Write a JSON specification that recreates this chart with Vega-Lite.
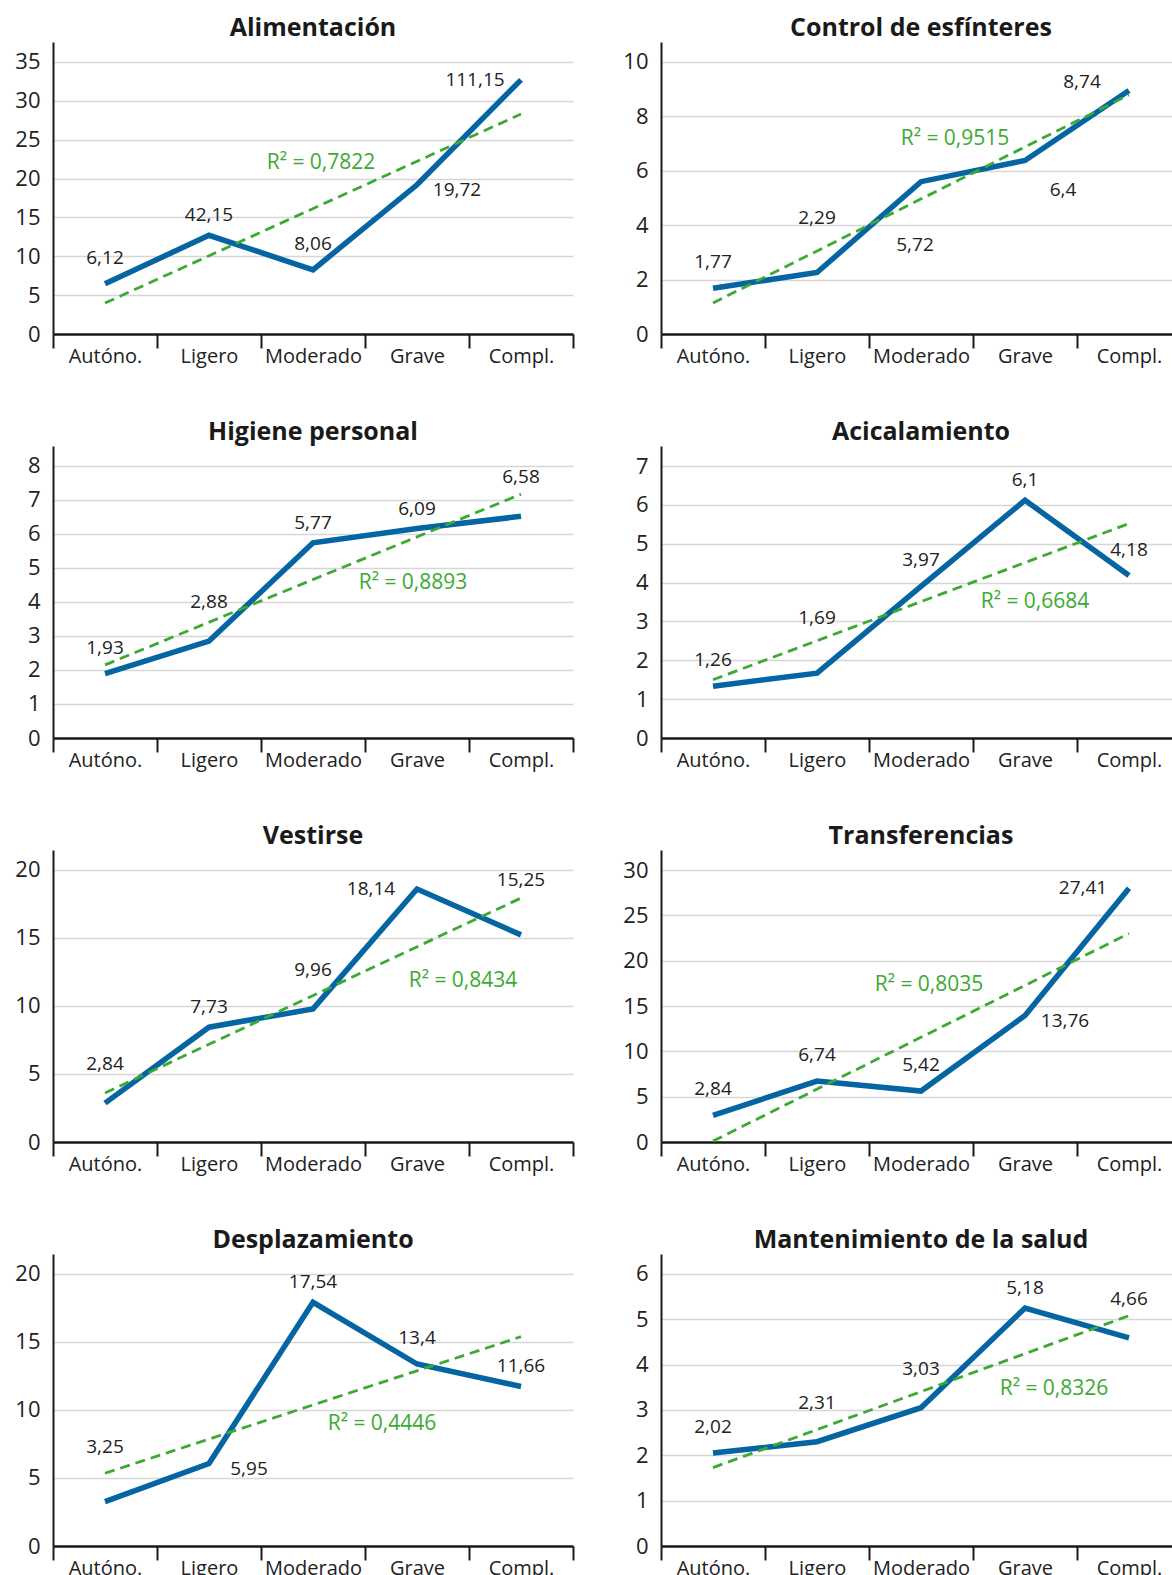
{
"$schema": "https://vega.github.io/schema/vega-lite/v6.json",
"padding": {"left": 14, "top": 16, "right": 0, "bottom": 0},
"datasets": {"d": [
{"panel":"Alimentación","cat":"Autóno.","v":6.47,"trend":3.98,"label":"6,12","pos":"above"},
{"panel":"Alimentación","cat":"Ligero","v":12.7,"trend":null,"label":"42,15","pos":"near"},
{"panel":"Alimentación","cat":"Moderado","v":8.26,"trend":null,"label":"8,06","pos":"above"},
{"panel":"Alimentación","cat":"Grave","v":19.2,"trend":null,"label":"19,72","pos":"right"},
{"panel":"Alimentación","cat":"Compl.","v":32.7,"trend":28.3,"label":"111,15","pos":"left"},
{"panel":"Control","cat":"Autóno.","v":1.68,"trend":1.14,"label":"1,77","pos":"above"},
{"panel":"Control","cat":"Ligero","v":2.26,"trend":null,"label":"2,29","pos":"top"},
{"panel":"Control","cat":"Moderado","v":5.6,"trend":null,"label":"5,72","pos":"below"},
{"panel":"Control","cat":"Grave","v":6.38,"trend":null,"label":"6,4","pos":"rightlow"},
{"panel":"Control","cat":"Compl.","v":8.95,"trend":8.79,"label":"8,74","pos":"lefthigh"},
{"panel":"Higiene","cat":"Autóno.","v":1.89,"trend":2.15,"label":"1,93","pos":"above"},
{"panel":"Higiene","cat":"Ligero","v":2.85,"trend":null,"label":"2,88","pos":"high"},
{"panel":"Higiene","cat":"Moderado","v":5.74,"trend":null,"label":"5,77","pos":"near"},
{"panel":"Higiene","cat":"Grave","v":6.16,"trend":null,"label":"6,09","pos":"near"},
{"panel":"Higiene","cat":"Compl.","v":6.52,"trend":7.17,"label":"6,58","pos":"high"},
{"panel":"Acicalamiento","cat":"Autóno.","v":1.33,"trend":1.5,"label":"1,26","pos":"above"},
{"panel":"Acicalamiento","cat":"Ligero","v":1.67,"trend":null,"label":"1,69","pos":"top"},
{"panel":"Acicalamiento","cat":"Moderado","v":3.9,"trend":null,"label":"3,97","pos":"above"},
{"panel":"Acicalamiento","cat":"Grave","v":6.12,"trend":null,"label":"6,1","pos":"near"},
{"panel":"Acicalamiento","cat":"Compl.","v":4.18,"trend":5.52,"label":"4,18","pos":"above"},
{"panel":"Vestirse","cat":"Autóno.","v":2.86,"trend":3.6,"label":"2,84","pos":"high"},
{"panel":"Vestirse","cat":"Ligero","v":8.44,"trend":null,"label":"7,73","pos":"near"},
{"panel":"Vestirse","cat":"Moderado","v":9.79,"trend":null,"label":"9,96","pos":"high"},
{"panel":"Vestirse","cat":"Grave","v":18.6,"trend":null,"label":"18,14","pos":"left"},
{"panel":"Vestirse","cat":"Compl.","v":15.23,"trend":17.94,"label":"15,25","pos":"top"},
{"panel":"Transferencias","cat":"Autóno.","v":2.94,"trend":0.1,"label":"2,84","pos":"above"},
{"panel":"Transferencias","cat":"Ligero","v":6.72,"trend":null,"label":"6,74","pos":"above"},
{"panel":"Transferencias","cat":"Moderado","v":5.62,"trend":null,"label":"5,42","pos":"above"},
{"panel":"Transferencias","cat":"Grave","v":13.95,"trend":null,"label":"13,76","pos":"right"},
{"panel":"Transferencias","cat":"Compl.","v":28.0,"trend":23.0,"label":"27,41","pos":"left"},
{"panel":"Desplazamiento","cat":"Autóno.","v":3.26,"trend":5.35,"label":"3,25","pos":"top"},
{"panel":"Desplazamiento","cat":"Ligero","v":6.06,"trend":null,"label":"5,95","pos":"right"},
{"panel":"Desplazamiento","cat":"Moderado","v":17.92,"trend":null,"label":"17,54","pos":"near"},
{"panel":"Desplazamiento","cat":"Grave","v":13.38,"trend":null,"label":"13,4","pos":"above"},
{"panel":"Desplazamiento","cat":"Compl.","v":11.73,"trend":15.39,"label":"11,66","pos":"near"},
{"panel":"Salud","cat":"Autóno.","v":2.05,"trend":1.73,"label":"2,02","pos":"above"},
{"panel":"Salud","cat":"Ligero","v":2.30,"trend":null,"label":"2,31","pos":"high"},
{"panel":"Salud","cat":"Moderado","v":3.05,"trend":null,"label":"3,03","pos":"high"},
{"panel":"Salud","cat":"Grave","v":5.25,"trend":null,"label":"5,18","pos":"near"},
{"panel":"Salud","cat":"Compl.","v":4.59,"trend":5.08,"label":"4,66","pos":"high"}
]},
"data": {"name": "d"},
"columns": 2,
"spacing": {"row": 112, "column": 88},
"bounds": "flush",
"concat": [
{"title": "Alimentación", "width": 520, "height": 292,
 "transform": [{"filter": "datum.panel === 'Alimentación'"}],
 "encoding": {"x": {"field": "cat", "type": "nominal", "sort": ["Autóno.","Ligero","Moderado","Grave","Compl."], "bandPosition": 0.5, "scale": {"type": "band", "paddingInner": 0, "paddingOuter": 0}}},
 "layer": [
  {"mark": {"type": "line", "color": "#0565a3", "strokeWidth": 5.5}, "encoding": {"y": {"field": "v", "type": "quantitative", "scale": {"domain": [0, 37.57], "nice": false}, "axis": {"values": [0,5,10,15,20,25,30,35]}}}},
  {"transform": [{"filter": "datum.trend != null"}], "mark": {"type": "line", "color": "#3caa32", "strokeWidth": 2.8, "strokeDash": [10,6]}, "encoding": {"y": {"field": "trend", "type": "quantitative"}}},
  {"mark": {"type": "text", "dx": {"expr": "datum.pos==='right'?40:datum.pos==='rightlow'?38:datum.pos==='left'?-46:datum.pos==='lefthigh'?-47:datum.pos==='below'?-6:0"}, "dy": {"expr": "datum.pos==='near'?-20:datum.pos==='above'?-26:datum.pos==='high'?-39:datum.pos==='top'?-55:datum.pos==='below'?63:datum.pos==='right'?5:datum.pos==='rightlow'?30:datum.pos==='lefthigh'?-9:0"}}, "encoding": {"y": {"field": "v", "type": "quantitative"}, "text": {"field": "label"}}},
  {"data": {"values": [{}]}, "mark": {"type": "text", "color": "#3caa32", "fontSize": 21, "dx": 8}, "encoding": {"x": {"datum": "Moderado"}, "y": {"datum": 21.98}, "text": {"value": "R² = 0,7822"}}}
 ]},
{"title": "Control de esfínteres", "width": 520, "height": 292,
 "transform": [{"filter": "datum.panel === 'Control'"}],
 "encoding": {"x": {"field": "cat", "type": "nominal", "sort": ["Autóno.","Ligero","Moderado","Grave","Compl."], "bandPosition": 0.5, "scale": {"type": "band", "paddingInner": 0, "paddingOuter": 0}}},
 "layer": [
  {"mark": {"type": "line", "color": "#0565a3", "strokeWidth": 5.5}, "encoding": {"y": {"field": "v", "type": "quantitative", "scale": {"domain": [0, 10.735], "nice": false}, "axis": {"values": [0,2,4,6,8,10]}}}},
  {"transform": [{"filter": "datum.trend != null"}], "mark": {"type": "line", "color": "#3caa32", "strokeWidth": 2.8, "strokeDash": [10,6]}, "encoding": {"y": {"field": "trend", "type": "quantitative"}}},
  {"mark": {"type": "text", "dx": {"expr": "datum.pos==='right'?40:datum.pos==='rightlow'?38:datum.pos==='left'?-46:datum.pos==='lefthigh'?-47:datum.pos==='below'?-6:0"}, "dy": {"expr": "datum.pos==='near'?-20:datum.pos==='above'?-26:datum.pos==='high'?-39:datum.pos==='top'?-55:datum.pos==='below'?63:datum.pos==='right'?5:datum.pos==='rightlow'?30:datum.pos==='lefthigh'?-9:0"}}, "encoding": {"y": {"field": "v", "type": "quantitative"}, "text": {"field": "label"}}},
  {"data": {"values": [{}]}, "mark": {"type": "text", "color": "#3caa32", "fontSize": 21, "dx": 34}, "encoding": {"x": {"datum": "Moderado"}, "y": {"datum": 7.16}, "text": {"value": "R² = 0,9515"}}}
 ]},
{"title": "Higiene personal", "width": 520, "height": 292,
 "transform": [{"filter": "datum.panel === 'Higiene'"}],
 "encoding": {"x": {"field": "cat", "type": "nominal", "sort": ["Autóno.","Ligero","Moderado","Grave","Compl."], "bandPosition": 0.5, "scale": {"type": "band", "paddingInner": 0, "paddingOuter": 0}}},
 "layer": [
  {"mark": {"type": "line", "color": "#0565a3", "strokeWidth": 5.5}, "encoding": {"y": {"field": "v", "type": "quantitative", "scale": {"domain": [0, 8.588], "nice": false}, "axis": {"values": [0,1,2,3,4,5,6,7,8]}}}},
  {"transform": [{"filter": "datum.trend != null"}], "mark": {"type": "line", "color": "#3caa32", "strokeWidth": 2.8, "strokeDash": [10,6]}, "encoding": {"y": {"field": "trend", "type": "quantitative"}}},
  {"mark": {"type": "text", "dx": {"expr": "datum.pos==='right'?40:datum.pos==='rightlow'?38:datum.pos==='left'?-46:datum.pos==='lefthigh'?-47:datum.pos==='below'?-6:0"}, "dy": {"expr": "datum.pos==='near'?-20:datum.pos==='above'?-26:datum.pos==='high'?-39:datum.pos==='top'?-55:datum.pos==='below'?63:datum.pos==='right'?5:datum.pos==='rightlow'?30:datum.pos==='lefthigh'?-9:0"}}, "encoding": {"y": {"field": "v", "type": "quantitative"}, "text": {"field": "label"}}},
  {"data": {"values": [{}]}, "mark": {"type": "text", "color": "#3caa32", "fontSize": 21, "dx": -4}, "encoding": {"x": {"datum": "Grave"}, "y": {"datum": 4.55}, "text": {"value": "R² = 0,8893"}}}
 ]},
{"title": "Acicalamiento", "width": 520, "height": 292,
 "transform": [{"filter": "datum.panel === 'Acicalamiento'"}],
 "encoding": {"x": {"field": "cat", "type": "nominal", "sort": ["Autóno.","Ligero","Moderado","Grave","Compl."], "bandPosition": 0.5, "scale": {"type": "band", "paddingInner": 0, "paddingOuter": 0}}},
 "layer": [
  {"mark": {"type": "line", "color": "#0565a3", "strokeWidth": 5.5}, "encoding": {"y": {"field": "v", "type": "quantitative", "scale": {"domain": [0, 7.515], "nice": false}, "axis": {"values": [0,1,2,3,4,5,6,7]}}}},
  {"transform": [{"filter": "datum.trend != null"}], "mark": {"type": "line", "color": "#3caa32", "strokeWidth": 2.8, "strokeDash": [10,6]}, "encoding": {"y": {"field": "trend", "type": "quantitative"}}},
  {"mark": {"type": "text", "dx": {"expr": "datum.pos==='right'?40:datum.pos==='rightlow'?38:datum.pos==='left'?-46:datum.pos==='lefthigh'?-47:datum.pos==='below'?-6:0"}, "dy": {"expr": "datum.pos==='near'?-20:datum.pos==='above'?-26:datum.pos==='high'?-39:datum.pos==='top'?-55:datum.pos==='below'?63:datum.pos==='right'?5:datum.pos==='rightlow'?30:datum.pos==='lefthigh'?-9:0"}}, "encoding": {"y": {"field": "v", "type": "quantitative"}, "text": {"field": "label"}}},
  {"data": {"values": [{}]}, "mark": {"type": "text", "color": "#3caa32", "fontSize": 21, "dx": 10}, "encoding": {"x": {"datum": "Grave"}, "y": {"datum": 3.49}, "text": {"value": "R² = 0,6684"}}}
 ]},
{"title": "Vestirse", "width": 520, "height": 292,
 "transform": [{"filter": "datum.panel === 'Vestirse'"}],
 "encoding": {"x": {"field": "cat", "type": "nominal", "sort": ["Autóno.","Ligero","Moderado","Grave","Compl."], "bandPosition": 0.5, "scale": {"type": "band", "paddingInner": 0, "paddingOuter": 0}}},
 "layer": [
  {"mark": {"type": "line", "color": "#0565a3", "strokeWidth": 5.5}, "encoding": {"y": {"field": "v", "type": "quantitative", "scale": {"domain": [0, 21.47], "nice": false}, "axis": {"values": [0,5,10,15,20]}}}},
  {"transform": [{"filter": "datum.trend != null"}], "mark": {"type": "line", "color": "#3caa32", "strokeWidth": 2.8, "strokeDash": [10,6]}, "encoding": {"y": {"field": "trend", "type": "quantitative"}}},
  {"mark": {"type": "text", "dx": {"expr": "datum.pos==='right'?40:datum.pos==='rightlow'?38:datum.pos==='left'?-46:datum.pos==='lefthigh'?-47:datum.pos==='below'?-6:0"}, "dy": {"expr": "datum.pos==='near'?-20:datum.pos==='above'?-26:datum.pos==='high'?-39:datum.pos==='top'?-55:datum.pos==='below'?63:datum.pos==='right'?5:datum.pos==='rightlow'?30:datum.pos==='lefthigh'?-9:0"}}, "encoding": {"y": {"field": "v", "type": "quantitative"}, "text": {"field": "label"}}},
  {"data": {"values": [{}]}, "mark": {"type": "text", "color": "#3caa32", "fontSize": 21, "dx": 46}, "encoding": {"x": {"datum": "Grave"}, "y": {"datum": 11.87}, "text": {"value": "R² = 0,8434"}}}
 ]},
{"title": "Transferencias", "width": 520, "height": 292,
 "transform": [{"filter": "datum.panel === 'Transferencias'"}],
 "encoding": {"x": {"field": "cat", "type": "nominal", "sort": ["Autóno.","Ligero","Moderado","Grave","Compl."], "bandPosition": 0.5, "scale": {"type": "band", "paddingInner": 0, "paddingOuter": 0}}},
 "layer": [
  {"mark": {"type": "line", "color": "#0565a3", "strokeWidth": 5.5}, "encoding": {"y": {"field": "v", "type": "quantitative", "scale": {"domain": [0, 32.21], "nice": false}, "axis": {"values": [0,5,10,15,20,25,30]}}}},
  {"transform": [{"filter": "datum.trend != null"}], "mark": {"type": "line", "color": "#3caa32", "strokeWidth": 2.8, "strokeDash": [10,6]}, "encoding": {"y": {"field": "trend", "type": "quantitative"}}},
  {"mark": {"type": "text", "dx": {"expr": "datum.pos==='right'?40:datum.pos==='rightlow'?38:datum.pos==='left'?-46:datum.pos==='lefthigh'?-47:datum.pos==='below'?-6:0"}, "dy": {"expr": "datum.pos==='near'?-20:datum.pos==='above'?-26:datum.pos==='high'?-39:datum.pos==='top'?-55:datum.pos==='below'?63:datum.pos==='right'?5:datum.pos==='rightlow'?30:datum.pos==='lefthigh'?-9:0"}}, "encoding": {"y": {"field": "v", "type": "quantitative"}, "text": {"field": "label"}}},
  {"data": {"values": [{}]}, "mark": {"type": "text", "color": "#3caa32", "fontSize": 21, "dx": 8}, "encoding": {"x": {"datum": "Moderado"}, "y": {"datum": 17.33}, "text": {"value": "R² = 0,8035"}}}
 ]},
{"title": "Desplazamiento", "width": 520, "height": 292,
 "transform": [{"filter": "datum.panel === 'Desplazamiento'"}],
 "encoding": {"x": {"field": "cat", "type": "nominal", "sort": ["Autóno.","Ligero","Moderado","Grave","Compl."], "bandPosition": 0.5, "scale": {"type": "band", "paddingInner": 0, "paddingOuter": 0}}},
 "layer": [
  {"mark": {"type": "line", "color": "#0565a3", "strokeWidth": 5.5}, "encoding": {"y": {"field": "v", "type": "quantitative", "scale": {"domain": [0, 21.47], "nice": false}, "axis": {"values": [0,5,10,15,20]}}}},
  {"transform": [{"filter": "datum.trend != null"}], "mark": {"type": "line", "color": "#3caa32", "strokeWidth": 2.8, "strokeDash": [10,6]}, "encoding": {"y": {"field": "trend", "type": "quantitative"}}},
  {"mark": {"type": "text", "dx": {"expr": "datum.pos==='right'?40:datum.pos==='rightlow'?38:datum.pos==='left'?-46:datum.pos==='lefthigh'?-47:datum.pos==='below'?-6:0"}, "dy": {"expr": "datum.pos==='near'?-20:datum.pos==='above'?-26:datum.pos==='high'?-39:datum.pos==='top'?-55:datum.pos==='below'?63:datum.pos==='right'?5:datum.pos==='rightlow'?30:datum.pos==='lefthigh'?-9:0"}}, "encoding": {"y": {"field": "v", "type": "quantitative"}, "text": {"field": "label"}}},
  {"data": {"values": [{}]}, "mark": {"type": "text", "color": "#3caa32", "fontSize": 21, "dx": 69}, "encoding": {"x": {"datum": "Moderado"}, "y": {"datum": 8.96}, "text": {"value": "R² = 0,4446"}}}
 ]},
{"title": "Mantenimiento de la salud", "width": 520, "height": 292,
 "transform": [{"filter": "datum.panel === 'Salud'"}],
 "encoding": {"x": {"field": "cat", "type": "nominal", "sort": ["Autóno.","Ligero","Moderado","Grave","Compl."], "bandPosition": 0.5, "scale": {"type": "band", "paddingInner": 0, "paddingOuter": 0}}},
 "layer": [
  {"mark": {"type": "line", "color": "#0565a3", "strokeWidth": 5.5}, "encoding": {"y": {"field": "v", "type": "quantitative", "scale": {"domain": [0, 6.441], "nice": false}, "axis": {"values": [0,1,2,3,4,5,6]}}}},
  {"transform": [{"filter": "datum.trend != null"}], "mark": {"type": "line", "color": "#3caa32", "strokeWidth": 2.8, "strokeDash": [10,6]}, "encoding": {"y": {"field": "trend", "type": "quantitative"}}},
  {"mark": {"type": "text", "dx": {"expr": "datum.pos==='right'?40:datum.pos==='rightlow'?38:datum.pos==='left'?-46:datum.pos==='lefthigh'?-47:datum.pos==='below'?-6:0"}, "dy": {"expr": "datum.pos==='near'?-20:datum.pos==='above'?-26:datum.pos==='high'?-39:datum.pos==='top'?-55:datum.pos==='below'?63:datum.pos==='right'?5:datum.pos==='rightlow'?30:datum.pos==='lefthigh'?-9:0"}}, "encoding": {"y": {"field": "v", "type": "quantitative"}, "text": {"field": "label"}}},
  {"data": {"values": [{}]}, "mark": {"type": "text", "color": "#3caa32", "fontSize": 21, "dx": 29}, "encoding": {"x": {"datum": "Grave"}, "y": {"datum": 3.47}, "text": {"value": "R² = 0,8326"}}}
 ]}
],
"config": {
 "view": {"stroke": null},
 "font": "Open Sans",
 "title": {"font": "Open Sans", "fontSize": 25, "fontWeight": "bold", "color": "#1a1a1a", "anchor": "middle", "frame": "group", "baseline": "alphabetic", "offset": 1},
 "text": {"font": "Open Sans", "fontSize": 19, "color": "#222222", "baseline": "middle", "align": "center"},
 "line": {"strokeCap": "butt"},
 "axisX": {"title": null, "labelAngle": 0, "domainColor": "#1a1a1a", "domainWidth": 2.5, "tickColor": "#1a1a1a", "tickWidth": 2, "tickSize": 14, "tickBand": "extent", "labelPadding": 14, "labelBaseline": "alphabetic", "labelFont": "Open Sans", "labelFontSize": 20, "labelColor": "#222222", "grid": false},
 "axisY": {"title": null, "tickCount": 20, "format": "d", "domainColor": "#1a1a1a", "domainWidth": 2, "ticks": false, "labelPadding": 13, "labelOverlap": false, "labelFont": "Open Sans", "labelFontSize": 22, "labelColor": "#222222", "grid": true, "gridColor": "#d6d6d6", "gridWidth": 1.5}
}
}
